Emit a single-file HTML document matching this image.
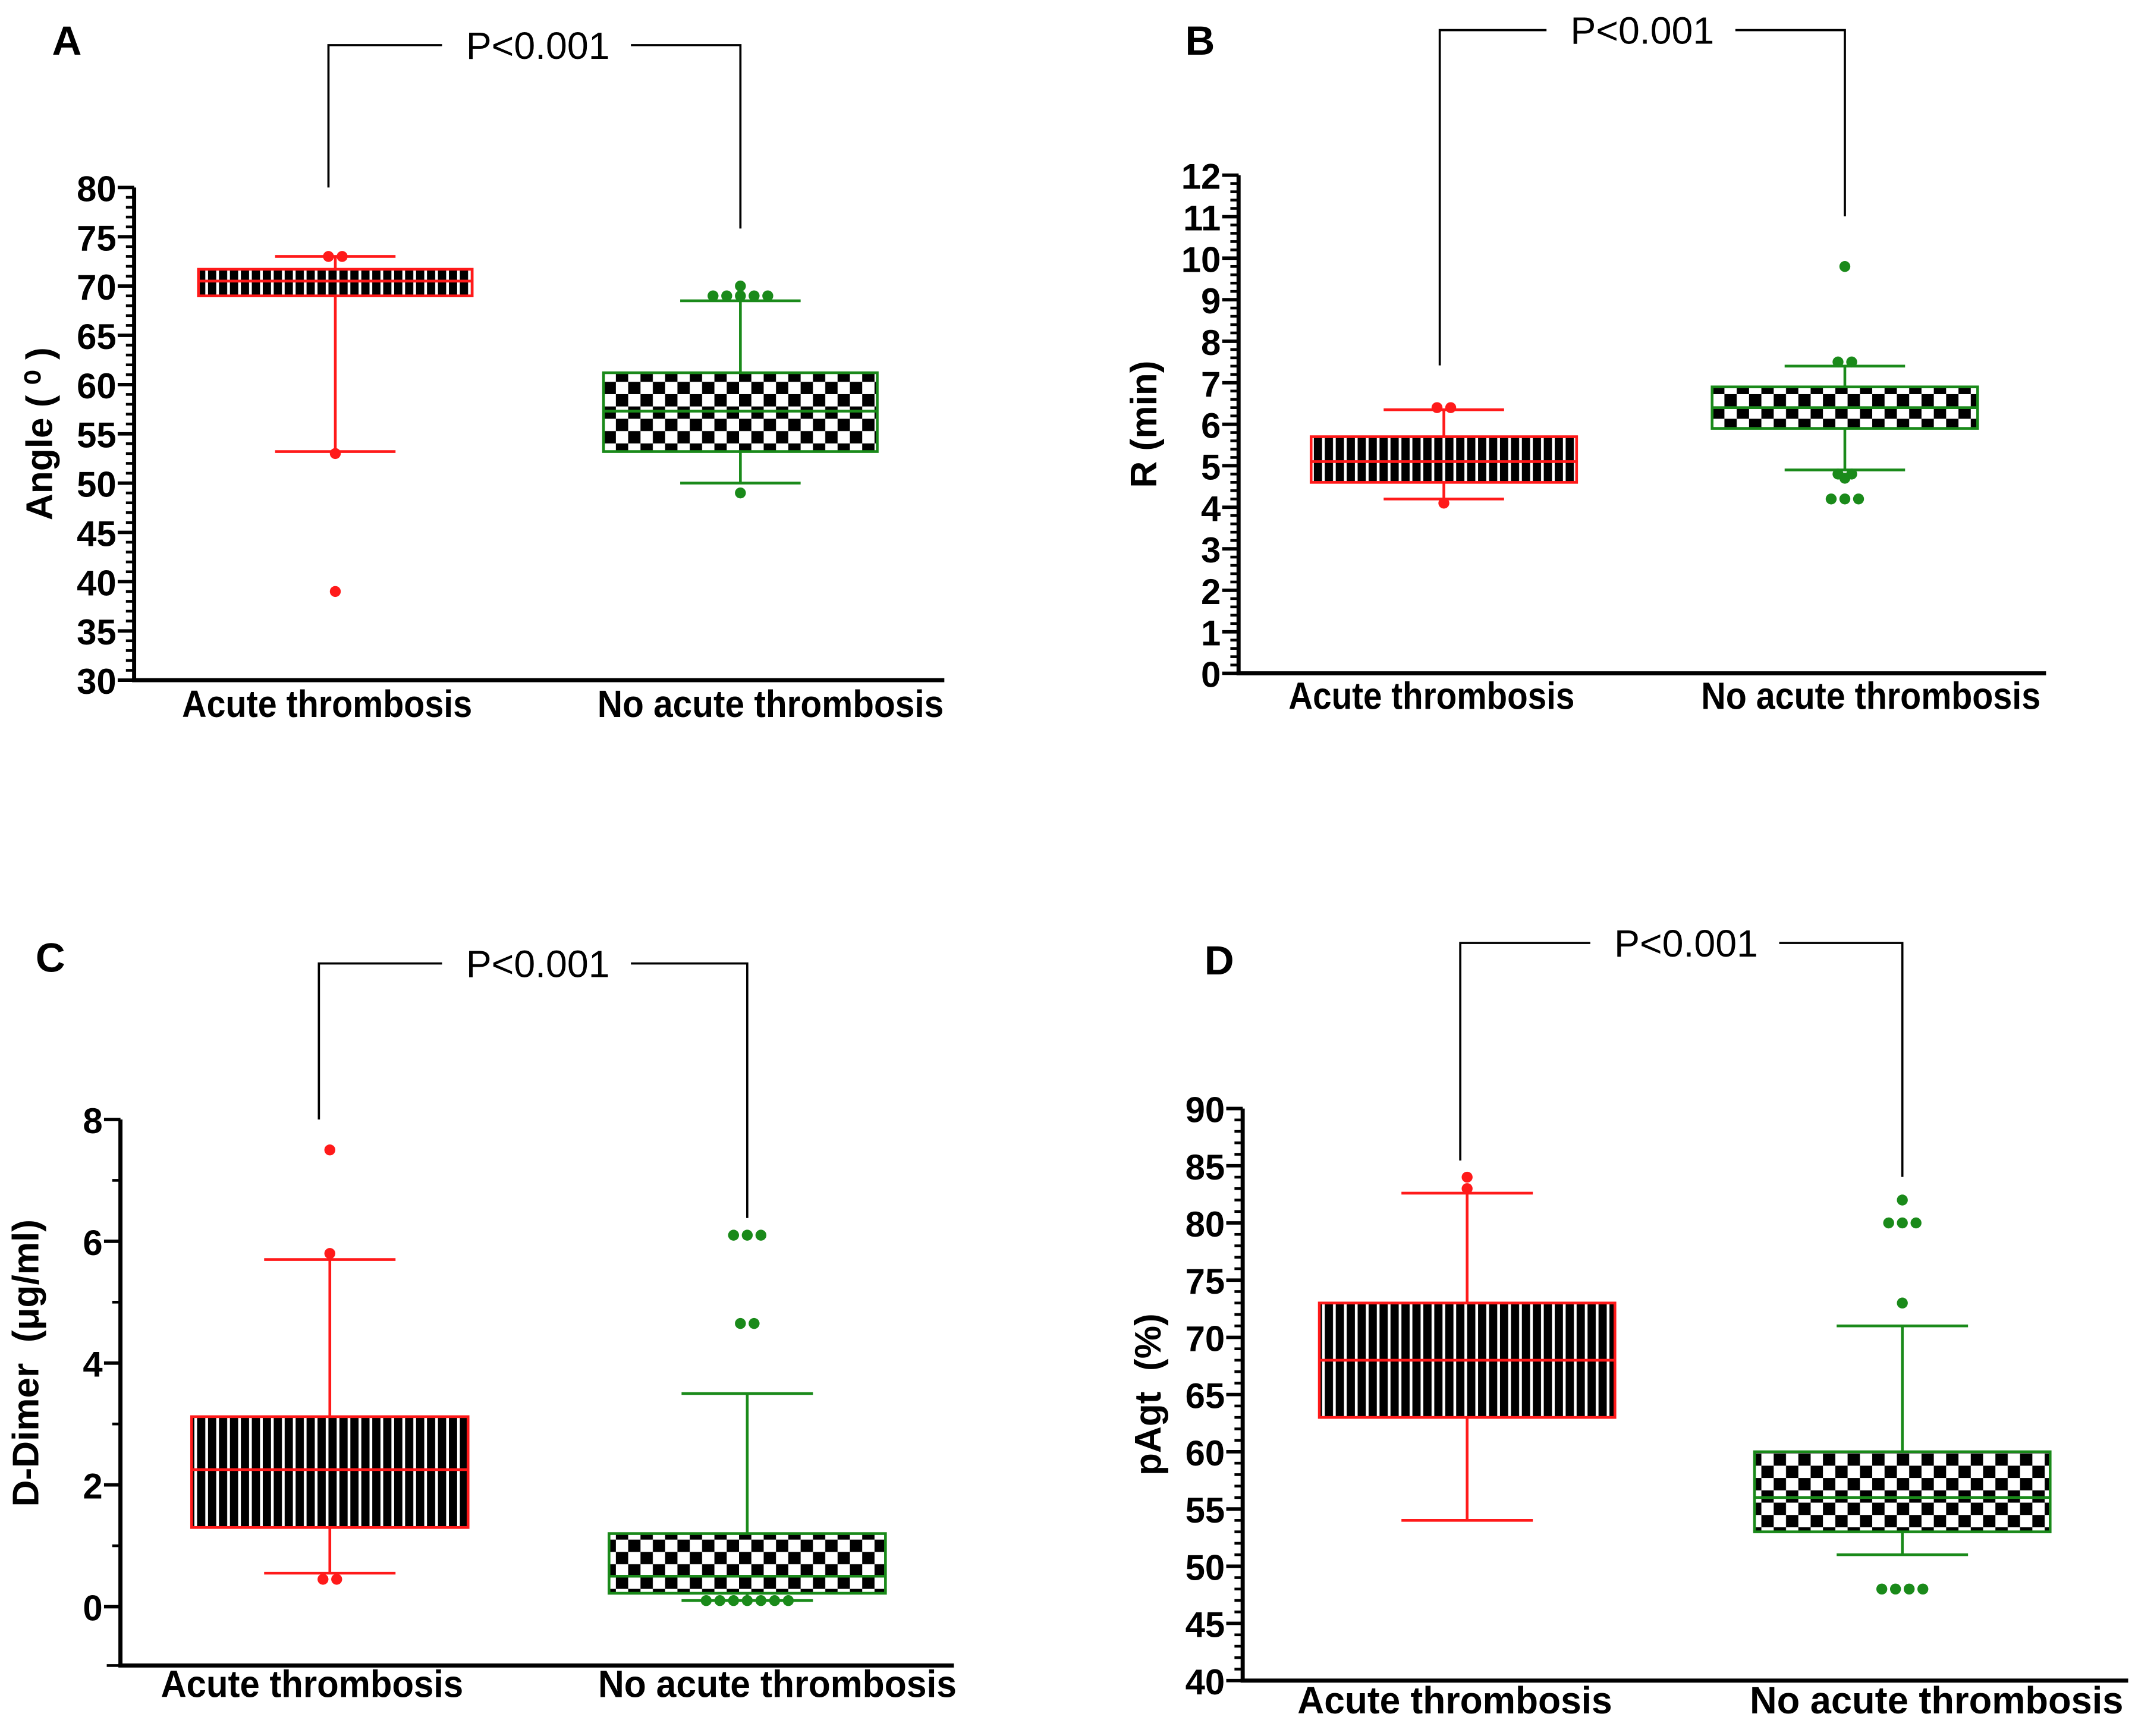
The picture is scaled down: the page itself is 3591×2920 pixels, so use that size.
<!DOCTYPE html>
<html><head><meta charset="utf-8"><style>
html,body{margin:0;padding:0;background:#fff}
svg{display:block}
text{font-family:"Liberation Sans Narrow","Liberation Sans",sans-serif}
</style></head><body>
<svg id="fig" width="3591" height="2920" viewBox="0 0 1560 1268.5" xmlns="http://www.w3.org/2000/svg">
<defs>
<pattern id="stripes" patternUnits="userSpaceOnUse" width="8" height="10"><rect width="8" height="10" fill="#000"/><rect x="6" width="2" height="10" fill="#fff"/></pattern>
<pattern id="checker" patternUnits="userSpaceOnUse" width="18" height="18"><rect width="18" height="18" fill="#fff"/><rect width="9" height="9" fill="#000"/><rect x="9" y="9" width="9" height="9" fill="#000"/></pattern>
</defs>
</svg>
<script>
// Panel A
const catsA = ["Acute thrombosis","No acute thrombosis"];
const boxA1 = [53.2, 69, 70.5, 71.7, 73];
const boxA2 = [50, 53.2, 57.3, 61.2, 68.5];
const outA1 = [73, 73, 53, 39];
const outA2 = [70, 69, 69, 69, 69, 69, 49];
const ticksA = [30,35,40,45,50,55,60,65,70,75,80];
// Panel B
const boxB1 = [4.2, 4.6, 5.1, 5.7, 6.35];
const boxB2 = [4.9, 5.9, 6.4, 6.9, 7.4];
const outB1 = [6.4, 6.4, 4.1];
const outB2 = [9.8, 7.5, 7.5, 4.8, 4.8, 4.7, 4.2, 4.2, 4.2];
const ticksB = [0,1,2,3,4,5,6,7,8,9,10,11,12];
// Panel C
const boxC1 = [0.55, 1.3, 2.25, 3.12, 5.7];
const boxC2 = [0.1, 0.22, 0.5, 1.2, 3.5];
const outC1 = [7.5, 5.8, 0.45, 0.45];
const outC2 = [6.1, 6.1, 6.1, 4.65, 4.65, 0.1, 0.1, 0.1, 0.1, 0.1, 0.1, 0.1];
const ticksC = [0,2,4,6,8];
// Panel D
const boxD1 = [54, 63, 68, 73, 82.6];
const boxD2 = [51, 53, 56, 60, 71];
const outD1 = [83, 84];
const outD2 = [82, 80, 80, 80, 73, 48, 48, 48, 48];
const ticksD = [40,45,50,55,60,65,70,75,80,85,90];

const NS="http://www.w3.org/2000/svg";
const svg=document.getElementById('fig');
function mk(tag,attrs,parent){const e=document.createElementNS(NS,tag);for(const k in attrs)e.setAttribute(k,attrs[k]);(parent||svg).appendChild(e);return e;}

const panels=[
 {id:'a',letter:'A',lx:38,ly:40,ax:98,top:137,bot:497,xEnd:690,min:30,max:80,ticks:ticksA,minor:1,b1:boxA1,b2:boxA2,o1:outA1,o2:outA2,
  c1:245,c2:541,bw:100,ww:44,f1:'url(#stripes)',f2:'url(#checker)',title:'Angle\u00a0(\u00a0\u2070\u00a0)',brTop:33,brL:240,brLb:137,brR:541,brRb:167,px:393,catY:524,
  lab:[[239,212],[563,253]]},
 {id:'b',letter:'B',lx:866,ly:40,ax:905,top:128,bot:492,xEnd:1495,min:0,max:12,ticks:ticksB,minor:0.2,b1:boxB1,b2:boxB2,o1:outB1,o2:outB2,
  c1:1055,c2:1348,bw:97,ww:44,f1:'url(#stripes)',f2:'url(#checker)',title:'R\u00a0(min)',brTop:22,brL:1052,brLb:267,brR:1348,brRb:158,px:1200,catY:518,
  lab:[[1046,209],[1367,248]]},
 {id:'c',letter:'C',lx:26,ly:710,ax:88,top:818,bot:1174,axBot:1217,xEnd:697,min:0,max:8,ticks:ticksC,minor:1,b1:boxC1,b2:boxC2,o1:outC1,o2:outC2,
  c1:241,c2:546,bw:101,ww:48,f1:'url(#stripes)',f2:'url(#checker)',title:'D-Dimer\u00a0\u00a0(\u03bcg/ml)',brTop:704,brL:233,brLb:818,brR:546,brRb:890,px:393,catY:1240,
  lab:[[228,221],[568,262]]},
 {id:'d',letter:'D',lx:880,ly:712,ax:908,top:810,bot:1228,xEnd:1555,min:40,max:90,ticks:ticksD,minor:1,b1:boxD1,b2:boxD2,o1:outD1,o2:outD2,
  c1:1072,c2:1390,bw:108,ww:48,f1:'url(#stripes)',f2:'url(#checker)',title:'pAgt\u00a0\u00a0(%)',brTop:689,brL:1067,brLb:848,brR:1390,brRb:860,px:1232,catY:1252,
  lab:[[1063,230],[1415,273]]}
];

panels.forEach(p=>{
  const g=mk('g',{});
  
  
  const y=v=>p.bot-(v-p.min)/(p.max-p.min)*(p.bot-p.top);
  const L=mk('text',{x:p.lx,y:p.ly,'font-size':30,'font-weight':'bold','font-family':'Liberation Sans, sans-serif'},g);L.textContent=p.letter;
  
  
  const br=mk('path',{d:`M${p.brL},${p.brLb}V${p.brTop}H${p.px-70}M${p.px+68},${p.brTop}H${p.brR}V${p.brRb}`,fill:'none',stroke:'#000','stroke-width':1.6},g);
  
  
  const pt=mk('text',{x:p.px,y:p.brTop+10,'font-size':28,'text-anchor':'middle','font-family':'Liberation Sans, sans-serif'},g);pt.textContent='P<0.001';
  
  
  const axBot=p.axBot||p.bot;
  const ya=mk('line',{x1:p.ax,y1:p.top,x2:p.ax,y2:axBot,stroke:'#000','stroke-width':3},g);
  
  
  const xa=mk('line',{x1:p.ax-1.5,y1:axBot,x2:p.xEnd,y2:axBot,stroke:'#000','stroke-width':3},g);
  
  
  if(p.axBot){mk('line',{x1:p.ax-10,y1:axBot,x2:p.ax,y2:axBot,stroke:'#000','stroke-width':2},g);}
  for(let v=p.min;v<=p.max+1e-9;v+=p.minor){mk('line',{x1:p.ax-6,y1:y(v),x2:p.ax,y2:y(v),stroke:'#000','stroke-width':2},g);}
  p.ticks.forEach(t=>{
    mk('line',{x1:p.ax-12,y1:y(t),x2:p.ax,y2:y(t),stroke:'#000','stroke-width':2.5},g);
    const tx=mk('text',{x:p.ax-13,y:y(t)+10,'font-size':26,'font-weight':'bold','text-anchor':'end'},g);tx.textContent=t;
    
    
  });
  const ty=(p.top+p.bot)/2;
  const tt=mk('text',{x:0,y:0,'font-size':27,'font-weight':'bold','text-anchor':'middle','font-family':'Liberation Sans, sans-serif',transform:`translate(${p.ax-60},${ty}) rotate(-90)`},g);tt.textContent=p.title;
  
  
  p.lab.forEach(([cx,w],i)=>{
    const ct=mk('text',{x:cx-w/2,y:p.catY,'font-size':28,'font-weight':'bold',textLength:w,lengthAdjust:'spacingAndGlyphs'},g);ct.textContent=catsA[i];
    
    
  });
  [[p.b1,p.o1,p.c1,'#ff1a1a',p.f1,'acute'],[p.b2,p.o2,p.c2,'#1a8a1a',p.f2,'no-acute']].forEach(([b,o,cx,col,fill,nm])=>{
    const bg=mk('g',{},g);
    
    
    mk('line',{x1:cx,y1:y(b[0]),x2:cx,y2:y(b[1]),stroke:col,'stroke-width':2},bg);
    mk('line',{x1:cx,y1:y(b[3]),x2:cx,y2:y(b[4]),stroke:col,'stroke-width':2},bg);
    mk('line',{x1:cx-p.ww,y1:y(b[0]),x2:cx+p.ww,y2:y(b[0]),stroke:col,'stroke-width':2},bg);
    mk('line',{x1:cx-p.ww,y1:y(b[4]),x2:cx+p.ww,y2:y(b[4]),stroke:col,'stroke-width':2},bg);
    mk('rect',{x:cx-p.bw,y:y(b[3]),width:2*p.bw,height:y(b[1])-y(b[3]),fill:fill,stroke:col,'stroke-width':2},bg);
    mk('line',{x1:cx-p.bw,y1:y(b[2]),x2:cx+p.bw,y2:y(b[2]),stroke:col,'stroke-width':2},bg);
    const counts={};o.forEach(v=>counts[v]=(counts[v]||0)+1);
    const seen={};
    o.forEach(v=>{
      const n=counts[v];seen[v]=(seen[v]||0);const i=seen[v]++;
      const dx=(i-(n-1)/2)*10;
      const d=mk('circle',{cx:cx+dx,cy:y(v),r:4,fill:col},bg);
      
      
    });
  });
  svg.appendChild(g);
});
</script>
</body></html>
